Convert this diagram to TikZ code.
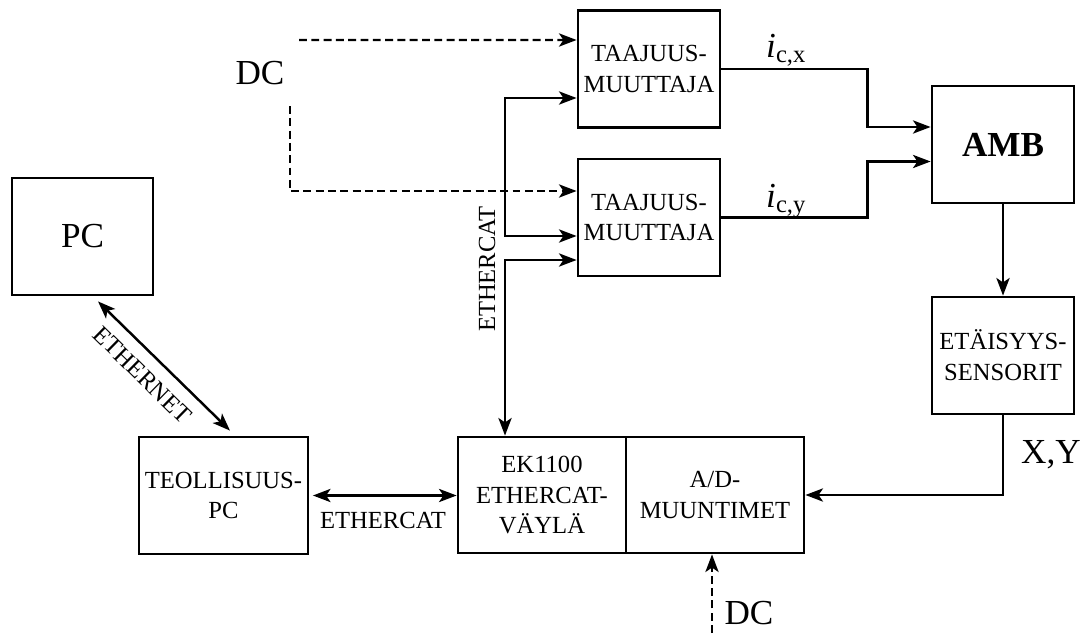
\documentclass[tikz,border=0pt]{standalone}
\usepackage{fontspec}
\setmainfont{Liberation Serif}
\usetikzlibrary{arrows.meta,positioning}

\newcommand{\boxtxt}{\fontsize{14}{17.5}\selectfont}
\newcommand{\bigtxt}{\fontsize{20}{24}\selectfont}

\begin{document}
\begin{tikzpicture}[>={Stealth[length=10pt,width=7.5pt,inset=2.5pt]}, line width=1.4pt,
    blk/.style={draw, line width=1.6pt, minimum height=2.34cm, inner sep=2pt,
      align=center, font=\boxtxt},
    dcline/.style={dash pattern=on 4.5pt off 2.5pt},
    lbl/.style={font=\boxtxt, inner sep=2pt}]
    \useasboundingbox (0,0) rectangle (21.68,12.66);

    % blocks
    \node[blk, minimum width=2.82cm, font=\bigtxt] (pc) at (1.65,7.93) {PC};
    \node[blk, minimum width=3.38cm] (teol) at (4.47,2.75) {TEOLLISUUS-\\PC};
    \node[blk, minimum width=2.84cm] (taa1) at (12.98,11.28) {TAAJUUS-\\MUUTTAJA};
    \node[blk, minimum width=2.84cm] (taa2) at (12.98,8.31) {TAAJUUS-\\MUUTTAJA};
    \node[blk, minimum width=2.84cm, font=\bigtxt\bfseries] (amb) at (20.06,9.77) {AMB};
    \node[blk, minimum width=2.84cm] (eta) at (20.06,5.55) {ETÄISYYS-\\SENSORIT};
    \node[blk, minimum width=3.36cm, minimum height=2.32cm] (ek) at (10.84,2.76)
      {EK1100\\ETHERCAT-\\VÄYLÄ};
    \node[blk, minimum width=3.56cm, minimum height=2.32cm, right=-1.6pt of ek] (ad)
      {A/D-\\MUUNTIMET};

    % supply
    \node[font=\bigtxt] (dctop) at (5.20,11.20) {DC};
    \node[font=\bigtxt] (dcbot) at (14.98,0.40) {DC};
    \coordinate (dca) at (5.98,11.86);
    \coordinate (dcb) at (5.80,10.54);
    \coordinate (dcc) at (14.24,0);
    \draw[dcline,->] (dca) -- ([yshift=0.58cm]taa1.west);
    \draw[dcline,->] (dcb) |- ([yshift=0.53cm]taa2.west);
    \draw[dcline,->] (dcc) -- (dcc |- ad.south);

    % fieldbus
    \coordinate (bus) at (10.1,9);
    \draw[<->] ([yshift=-0.58cm]taa1.west) -| (bus) |- ([yshift=-0.37cm]taa2.west);
    \draw[<->] ([yshift=-0.85cm]taa2.west) -| (bus |- ek.north);
    \node[lbl, rotate=90] (lecat) at (9.74,7.28) {ETHERCAT};
    \draw[<->, shorten <=2pt] (teol.east) -- node[lbl, below=7pt] (lecat2) {ETHERCAT}
      (teol.east -| ek.west);
    \draw[<->] ([xshift=0.31cm,yshift=-0.1cm]pc.south)
      -- node[lbl, sloped, below=5pt, pos=0.45] (leth) {ETHERNET}
      ([xshift=0.13cm,yshift=0.1cm]teol.north);

    % currents and positions
    \draw[->] (taa1.east) -- ++(2.92,0) |- ([yshift=0.35cm]amb.west);
    \draw[->] (taa2.east) -- ++(2.92,0) |- ([yshift=-0.34cm]amb.west);
    \node[anchor=base west, inner sep=0, font=\bigtxt] (icx) at (15.30,11.52)
      {\textit{i}\textsubscript{c,x}};
    \node[anchor=base west, inner sep=0, font=\bigtxt] (icy) at (15.30,8.52)
      {\textit{i}\textsubscript{c,y}};
    \draw[->] (amb) -- (eta);
    \draw[->] (eta.south) |- (ad.east);
    \node[font=\bigtxt] (xy) at (21.02,3.56) {X,Y};
\end{tikzpicture}
\end{document}
